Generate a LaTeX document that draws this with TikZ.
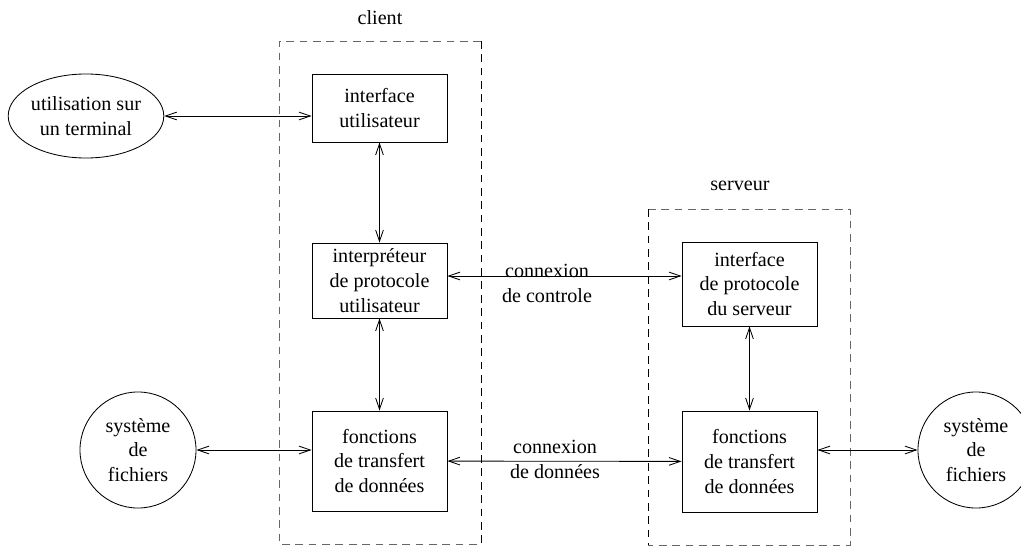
\documentclass[tikz,border=0pt]{standalone}
\usepackage{fontspec}
\setmainfont{Liberation Serif}
\usetikzlibrary{shapes.geometric,arrows.meta}
\begin{document}
\begin{tikzpicture}[x=0.025cm, y=-0.025cm,
  font=\fontsize{14.3}{17.7}\selectfont,
  box/.style={draw, line width=0.6pt, align=center, inner sep=0pt, minimum width=3.375cm},
  link/.style={{Straight Barb[length=8pt,width=5.5pt]}-{Straight Barb[length=8pt,width=5.5pt]}, line width=0.6pt},
  frame/.style={dash pattern=on 5.5pt off 4pt, line width=0.7pt, black!60}]
\useasboundingbox (0,0) rectangle (1021,546);
% dashed frames
\draw[frame] (481,41) -- (279,41) -- (279,544) -- (481,544);
\draw[frame,black] (481,41) -- (481,544);
\draw[frame] (648,209) -- (850,209) -- (850,545) -- (648,545);
\draw[frame,black] (648,209) -- (648,545);
\node (client) at (380,18) {client};
\node (serveur) at (740,186) {serveur};
% client side
\node[box, minimum height=1.7cm] (iu) at (379.5,108) {interface\\utilisateur};
\node[box, minimum height=1.875cm] (ipu) at (379.5,280.5) {interpréteur\\de protocole\\utilisateur};
\node[box, minimum height=2.5cm] (cft) at (379.5,461) {fonctions\\de transfert\\de données};
% server side
\node[box, minimum height=2.1cm] (sip) at (749.5,284) {interface\\de protocole\\du serveur};
\node[box, minimum height=2.525cm] (sft) at (749.5,461.5) {fonctions\\de transfert\\de données};
% outside
\node[draw, ellipse, line width=0.6pt, align=center, inner sep=0pt, minimum width=3.8cm, minimum height=2.1cm] (term) at (86,116) {utilisation sur\\un terminal};
\node[draw, circle, line width=0.6pt, align=center, inner sep=0pt, minimum size=2.9cm] (fs1) at (138,450) {système\\de\\fichiers};
\node[draw, circle, line width=0.6pt, align=center, inner sep=0pt, minimum size=2.9cm] (fs2) at (976,450) {système\\de\\fichiers};
\node[align=center] (ctrl) at (547,283) {connexion\\de controle};
\node[align=center] (data) at (555,459) {connexion\\de données};
% links
\draw[link] (term.east) -- (iu.west |- term.east);
\draw[link] (iu) -- (ipu);
\draw[link] (ipu) -- (cft);
\draw[link] (ipu.east |- 0,276) -- (sip.west |- 0,276);
\draw[link] (sip) -- (sft);
\draw[link] (cft) -- (sft);
\draw[link] (fs1.east) -- (cft.west |- fs1.east);
\draw[link] (sft.east |- fs2.west) -- (fs2.west);
\end{tikzpicture}
\end{document}
